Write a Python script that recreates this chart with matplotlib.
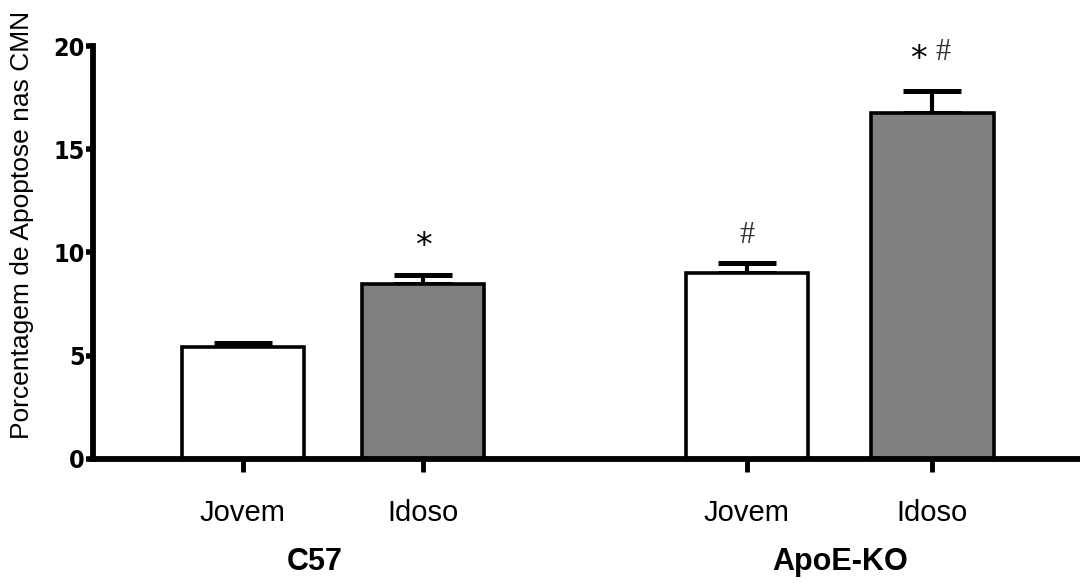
import matplotlib.pyplot as plt

# Percent apoptosis in the CMN, mean and SEM per group
grupos = ['C57', 'ApoE-KO']
idades = ['Jovem', 'Idoso', 'Jovem', 'Idoso']
medias = [5.4, 8.45, 9.0, 16.75]
erros = [0.2, 0.45, 0.5, 1.05]
marcas = ['', '*', '#', '*#']
cores = ['white', '#808080', 'white', '#808080']
pos = [0, 1, 2.8, 3.83]

fig = plt.figure(figsize=(10.8, 5.83), dpi=100)
ax = fig.add_axes([0.086, 0.213, 0.914, 0.708])

ax.bar(pos, medias, width=0.68, color=cores, edgecolor='black', linewidth=2.6, zorder=2)
ax.errorbar(pos, medias, yerr=[[0] * 4, erros], fmt='none', ecolor='black',
            elinewidth=3, capsize=21, capthick=3.6, zorder=1)

# significance marks above the error bars
for x, m, e, s in zip(pos, medias, erros, marcas):
    y = m + e + 0.6
    if s == '*':
        ax.text(x, y, '*', ha='center', va='bottom', fontsize=24, family='DejaVu Sans')
    elif s == '#':
        ax.text(x, y, '#', ha='center', va='bottom', fontsize=22, family='Liberation Serif',
                color='#333333')
    elif s == '*#':
        ax.text(x - 0.03, y + 0.15, '*', ha='right', va='bottom', fontsize=24, family='DejaVu Sans')
        ax.text(x + 0.02, y + 0.6, '#', ha='left', va='bottom', fontsize=22,
                family='Liberation Serif', color='#333333')

ax.set_xlim(-0.833, 4.65)
ax.set_ylim(0, 20)
ax.set_yticks([0, 5, 10, 15, 20])
ax.set_xticks(pos)
ax.set_xticklabels(idades, fontsize=21, family='Liberation Sans')
for lab in ax.get_yticklabels():
    lab.set_family('DejaVu Sans')
    lab.set_fontstretch('condensed')
    lab.set_fontweight('bold')
    lab.set_fontsize(18)

ax.spines['top'].set_visible(False)
ax.spines['right'].set_visible(False)
ax.spines['left'].set_linewidth(4.2)
ax.spines['bottom'].set_linewidth(4.2)
ax.tick_params(axis='y', length=5, width=4, pad=1)
ax.tick_params(axis='x', length=9, width=3.5, pad=20)

ax.set_ylabel('Porcentagem de Apoptose nas CMN', fontsize=19, family='Liberation Sans')
ax.yaxis.set_label_coords(-0.06, 0.567)

# strain names under each pair of bars
for i, g in enumerate(grupos):
    xc = (pos[2 * i] + pos[2 * i + 1]) / 2
    ax.text(xc - (0.1 if i == 0 else 0), -5.0, g, ha='center', va='center', fontsize=22,
            fontweight='bold', family='Liberation Sans')

fig.savefig('out.png', dpi=100)
